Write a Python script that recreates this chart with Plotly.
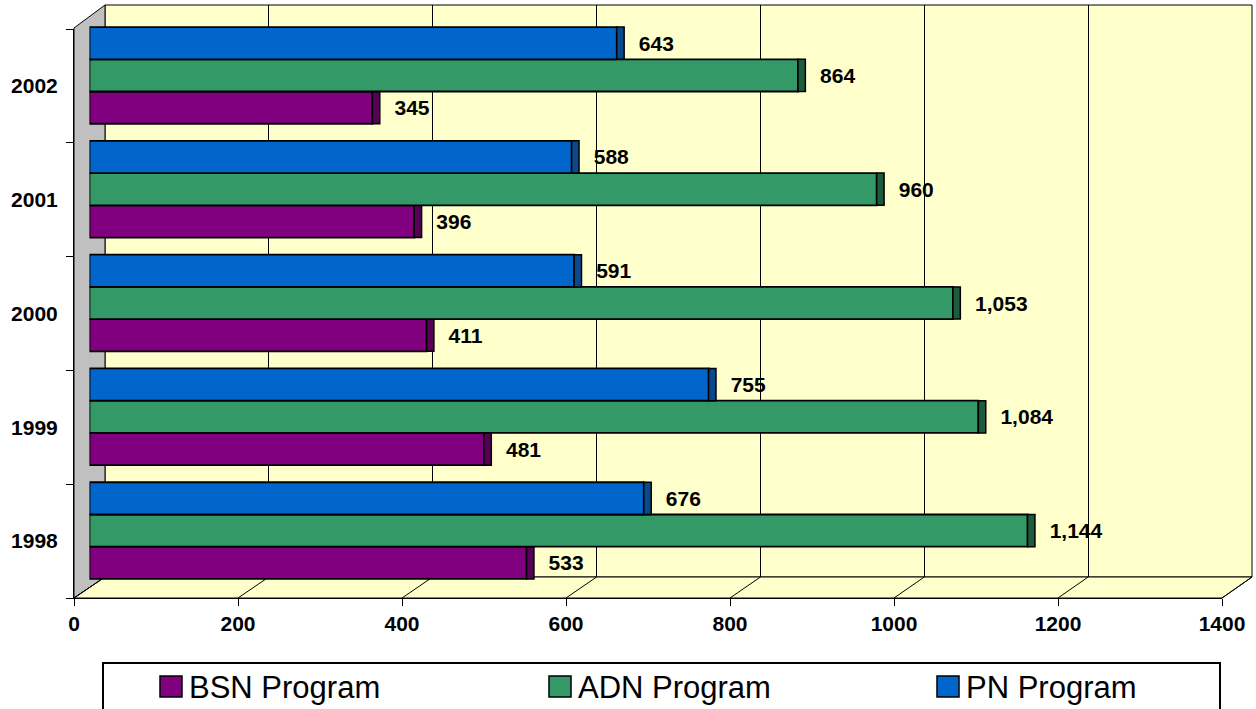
import plotly.graph_objects as go

# ---------------- data ----------------
years = ["1998", "1999", "2000", "2001", "2002"]
series_names = ["BSN Program", "ADN Program", "PN Program"]
bsn = [533, 481, 411, 396, 345]
adn = [1144, 1084, 1053, 960, 864]
pn = [676, 755, 591, 588, 643]
series_values = [bsn, adn, pn]
series_colors = ["#800080", "#339966", "#0066CC"]
cap_colors = ["#560056", "#1E5A3C", "#0A4A8C"]
x_ticks = [0, 200, 400, 600, 800, 1000, 1200, 1400]
x_max = 1400
CAP_LEN = 9  # length of the cylinder end-cap, in axis units (styling)

# ---------------- geometry helpers ----------------
W, H = 1256, 709


def fx(px):
    return px / W


def fy(py):
    return 1 - py / H


FRONT_L, FRONT_R, FRONT_Y = 74, 1222, 598      # front floor edge (x axis)
BACK_L, BACK_R, BACK_T, BACK_B = 105, 1252, 5, 577  # back wall
SIDE_TOP = 28
BAR_L, BAR_R = 89.5, 1237.5                     # bar depth plane
BAR_T, BAR_B = 18.5, 587.5

FONT = "Liberation Sans, Arial, sans-serif"

fig = go.Figure()

# invisible helper traces so every subplot is drawn
fig.add_trace(go.Scatter(x=[0, x_max], y=[0, 1], mode="markers", marker=dict(opacity=0),
                         hoverinfo="skip", showlegend=False, xaxis="x", yaxis="y"))
fig.add_trace(go.Scatter(x=[0] * len(years), y=years, mode="markers", marker=dict(opacity=0),
                         hoverinfo="skip", showlegend=False, xaxis="x2", yaxis="y2"))

# bars + darker end caps (same offset group => same slot)
for name, vals, col, ccol in zip(series_names, series_values, series_colors, cap_colors):
    fig.add_trace(go.Bar(
        y=years, x=vals, name=name, orientation="h", offsetgroup=name,
        marker=dict(color=col, line=dict(color="black", width=1.8)),
        xaxis="x3", yaxis="y3", showlegend=False,
    ))
    fig.add_trace(go.Bar(
        y=years, x=[CAP_LEN] * len(vals), base=vals, customdata=vals,
        name=name + " cap", orientation="h", offsetgroup=name,
        marker=dict(color=ccol, line=dict(color="black", width=1.5)),
        texttemplate="\u00a0\u00a0%{customdata:,}", textposition="outside",
        textfont=dict(family=FONT, size=21, color="black", weight="bold"),
        constraintext="none", cliponaxis=False, hoverinfo="skip",
        xaxis="x3", yaxis="y3", showlegend=False,
    ))

# ---------------- shapes: 3D frame ----------------
shapes = []
# back wall
shapes.append(dict(type="rect", xref="paper", yref="paper",
                   x0=fx(BACK_L), x1=fx(BACK_R), y0=fy(BACK_B), y1=fy(BACK_T),
                   fillcolor="#FFFFCC", line=dict(color="black", width=1), layer="below"))
# side wall (gray)
side_path = (f"M {fx(FRONT_L)},{fy(SIDE_TOP)} L {fx(BACK_L)},{fy(BACK_T)} "
             f"L {fx(BACK_L)},{fy(BACK_B)} L {fx(FRONT_L)},{fy(FRONT_Y)} Z")
shapes.append(dict(type="path", xref="paper", yref="paper", path=side_path,
                   fillcolor="#C0C0C0", line=dict(color="black", width=1), layer="below"))
# floor
floor_path = (f"M {fx(FRONT_L)},{fy(FRONT_Y)} L {fx(BACK_L)},{fy(BACK_B)} "
              f"L {fx(BACK_R)},{fy(BACK_B)} L {fx(FRONT_R)},{fy(FRONT_Y)} Z")
shapes.append(dict(type="path", xref="paper", yref="paper", path=floor_path,
                   fillcolor="#FFFFCC", line=dict(color="black", width=1), layer="below"))
# floor diagonal grid lines
for t in x_ticks:
    xf = FRONT_L + (FRONT_R - FRONT_L) * t / x_max
    xb = BACK_L + (BACK_R - BACK_L) * t / x_max
    shapes.append(dict(type="line", xref="paper", yref="paper",
                       x0=fx(xf), y0=fy(FRONT_Y), x1=fx(xb), y1=fy(BACK_B),
                       line=dict(color="black", width=1), layer="below"))

# ---------------- legend (drawn) ----------------
LEG_T, LEG_B, LEG_L, LEG_R = 663, 712, 103, 1220
shapes.append(dict(type="rect", xref="paper", yref="paper",
                   x0=fx(LEG_L), x1=fx(LEG_R), y0=fy(LEG_B), y1=fy(LEG_T),
                   fillcolor="white", line=dict(color="black", width=2)))
leg_sq_x = [160, 549, 937]
annotations = []
for name, col, sx in zip(series_names, series_colors, leg_sq_x):
    shapes.append(dict(type="rect", xref="paper", yref="paper",
                       x0=fx(sx), x1=fx(sx + 22), y0=fy(697), y1=fy(676),
                       fillcolor=col, line=dict(color="black", width=1.5)))
    annotations.append(dict(xref="paper", yref="paper", x=fx(sx + 27), y=fy(687),
                            xanchor="left", yanchor="middle", showarrow=False,
                            text=name, font=dict(family=FONT, size=31, color="black")))

tickfont = dict(family=FONT, size=21, color="black", weight="bold")

fig.update_layout(
    width=W, height=H,
    margin=dict(l=0, r=0, t=0, b=0, pad=0, autoexpand=False),
    paper_bgcolor="white", plot_bgcolor="rgba(0,0,0,0)",
    shapes=shapes, annotations=annotations,
    showlegend=False,
    barmode="group", bargap=0.15, bargroupgap=0,
    # back wall grid
    xaxis=dict(domain=[fx(BACK_L), fx(BACK_R)], range=[0, x_max], anchor="y",
               showgrid=True, gridcolor="black", gridwidth=1, dtick=200, tick0=0,
               showticklabels=False, zeroline=False, showline=False, ticks="",
               automargin=False),
    yaxis=dict(domain=[fy(BACK_B), fy(BACK_T)], range=[0, 1], anchor="x",
               visible=False, automargin=False),
    # front axes
    xaxis2=dict(domain=[fx(FRONT_L), fx(FRONT_R)], range=[0, x_max], anchor="y2",
                tickvals=x_ticks, ticktext=[str(t) for t in x_ticks],
                ticks="outside", ticklen=7, tickcolor="black",
                showline=True, linecolor="black", linewidth=1,
                showgrid=False, zeroline=False, tickfont=tickfont, automargin=False),
    yaxis2=dict(domain=[fy(FRONT_Y), fy(SIDE_TOP + 1)], anchor="x2",
                type="category", categoryarray=years, range=[-0.5, len(years) - 0.5],
                ticks="outside", ticklen=7, tickcolor="black", tickson="boundaries",
                showline=True, linecolor="black", linewidth=1,
                showgrid=False, zeroline=False, tickfont=tickfont,
                ticklabelstandoff=11, automargin=False),
    # bar plane
    xaxis3=dict(domain=[fx(BAR_L), fx(BAR_R)], range=[0, x_max], anchor="y3",
                visible=False, automargin=False),
    yaxis3=dict(domain=[fy(BAR_B), fy(BAR_T)], anchor="x3",
                type="category", categoryarray=years, range=[-0.5, len(years) - 0.5],
                visible=False, automargin=False),
)

fig.write_html("out.html",
               config={"displayModeBar": False},
               post_script="document.body.style.margin='0';"
                           "document.body.style.overflow='hidden';")
